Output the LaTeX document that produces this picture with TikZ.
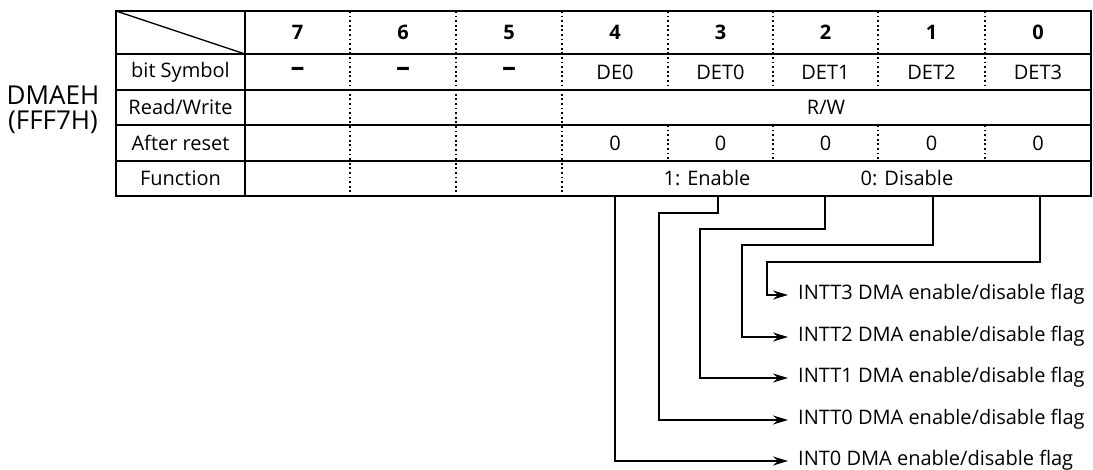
\documentclass[tikz,border=0pt]{standalone}
\usepackage{fontspec}
\setmainfont{Open Sans}
\usetikzlibrary{arrows.meta}
\begin{document}
\begin{tikzpicture}[x=1pt,y=-1pt,
  frame/.style={line width=2.2pt},
  dotline/.style={line width=1.8pt, dash pattern=on 1.8pt off 2.8pt},
  cell/.style={inner sep=0pt, font=\fontsize{20}{24}\selectfont},
  hcell/.style={cell, font=\fontsize{20}{24}\selectfont\bfseries},
  dcell/.style={inner sep=0pt, font=\fontsize{28}{28}\selectfont\bfseries},
  flag/.style={anchor=west, inner ysep=0pt, inner xsep=10pt, text height=13pt, text depth=4pt, font=\fontsize{20}{24}\selectfont},
  conn/.style={line width=1.8pt, -{Stealth[length=15pt,width=9pt,inset=5pt]}},
  reg/.style={inner sep=0pt, align=center, font=\fontsize{26}{25}\selectfont}]
\useasboundingbox (0,0) rectangle (1093,470);
% table frame
\draw[frame] (116,11) rectangle (1091,196);
\foreach \y in {54,90,125,161} \draw[frame] (116,\y) -- (1091,\y);
\draw[frame] (245,11) -- (245,196);
\draw[line width=1.4pt] (116,11) -- (245,54);
\foreach \x in {350,456,562} \draw[dotline] (\x,11) -- (\x,196);
\foreach \x in {668,773,878,985} {
  \draw[dotline] (\x,11) -- (\x,90);
  \draw[dotline] (\x,125) -- (\x,161);
}
% register name
\node[reg] (rn) at (53,110) {DMAEH\\(FFF7H)};
% row labels
\node[cell] (lsym) at (180.5,72) {bit Symbol};
\node[cell] (lrw) at (180.5,107.5) {Read/Write};
\node[cell] (lrs) at (180.5,143) {After reset};
\node[cell] (lfn) at (180.5,178.5) {Function};
% header
\node[hcell] (h7) at (297.5,32) {7};
\node[hcell] (h6) at (403,32) {6};
\node[hcell] (h5) at (509,32) {5};
\node[hcell] (h4) at (615,32) {4};
\node[hcell] (h3) at (720.5,32) {3};
\node[hcell] (h2) at (825.5,32) {2};
\node[hcell] (h1) at (931.5,32) {1};
\node[hcell] (h0) at (1038,32) {0};
% symbols
\node[dcell] (s7) at (297.5,72) {–};
\node[dcell] (s6) at (403,72) {–};
\node[dcell] (s5) at (509,72) {–};
\node[cell] (s4) at (615,72) {DE0};
\node[cell] (s3) at (720.5,72) {DET0};
\node[cell] (s2) at (825.5,72) {DET1};
\node[cell] (s1) at (931.5,72) {DET2};
\node[cell] (s0) at (1038,72) {DET3};
% read/write
\node[cell] (rw) at (826,107.5) {R/W};
% after reset
\node[cell] (r4) at (615,143) {0};
\node[cell] (r3) at (720.5,143) {0};
\node[cell] (r2) at (825.5,143) {0};
\node[cell] (r1) at (931.5,143) {0};
\node[cell] (r0) at (1038,143) {0};
% function
\node[cell] (fe) at (707,178.5) {1: Enable};
\node[cell] (fd) at (907,178.5) {0: Disable};
% connector starts and bends
\coordinate (b4) at (615,196);
\coordinate (b3) at (718,196);
\coordinate (b2) at (825,196);
\coordinate (b1) at (933,196);
\coordinate (b0) at (1040,196);
\coordinate (j3) at (659,213);
\coordinate (j2) at (700,229);
\coordinate (j1) at (742,245);
\coordinate (j0) at (767,262);
% flag labels
\node[flag] (f0) at (788,295) {INTT3 DMA enable/disable flag};
\node[flag] (f1) at (788,337) {INTT2 DMA enable/disable flag};
\node[flag] (f2) at (788,378) {INTT1 DMA enable/disable flag};
\node[flag] (f3) at (788,420) {INTT0 DMA enable/disable flag};
\node[flag] (f4) at (788,461) {INT0 DMA enable/disable flag};
% connectors
\draw[conn] (b4) |- (f4.west);
\draw[conn] (b3) |- (j3) |- (f3.west);
\draw[conn] (b2) |- (j2) |- (f2.west);
\draw[conn] (b1) |- (j1) |- (f1.west);
\draw[conn] (b0) |- (j0) |- (f0.west);
\end{tikzpicture}
\end{document}
